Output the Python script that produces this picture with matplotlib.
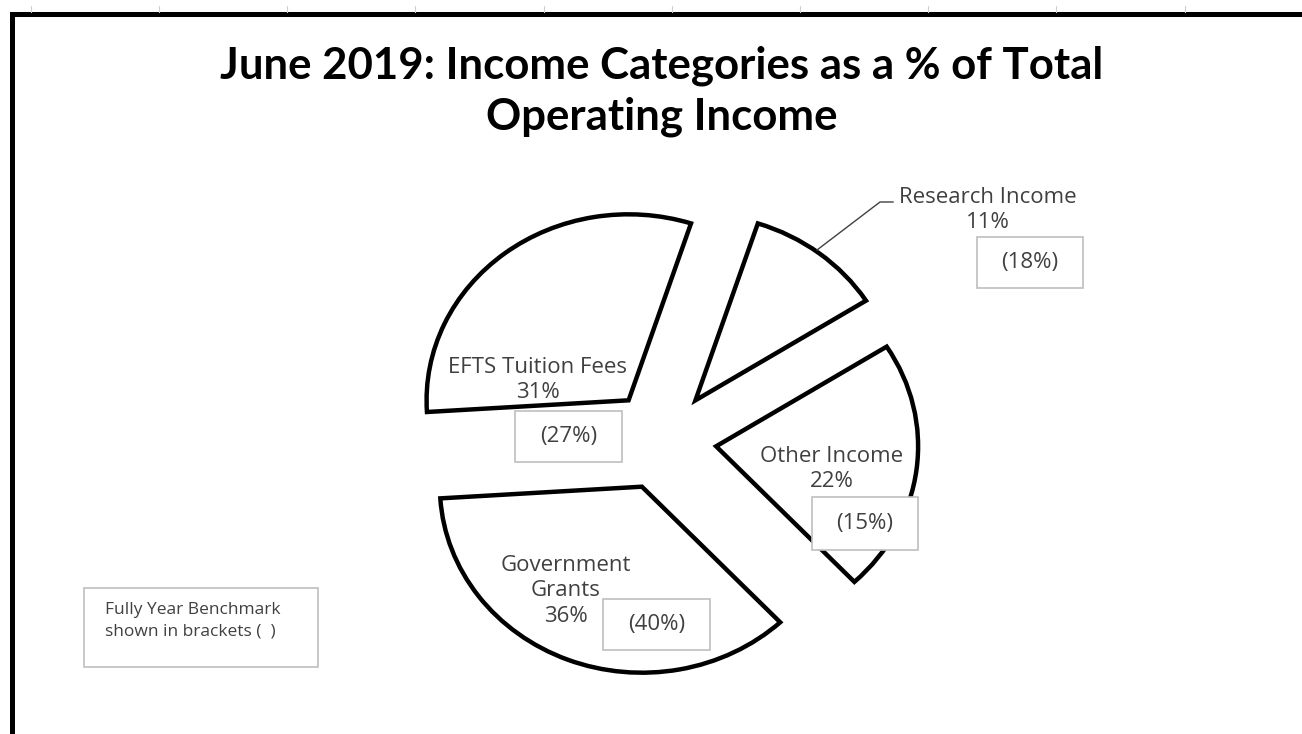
import matplotlib
matplotlib.use('Agg')
import matplotlib.pyplot as plt
from matplotlib.lines import Line2D
from matplotlib.patches import Rectangle

W, H = 1302, 734

categories = ['Research Income', 'Other Income', 'Government\nGrants', 'EFTS Tuition Fees']
shares = [11, 22, 36, 31]            # June 2019, % of total operating income
benchmark = [18, 15, 40, 27]         # full year benchmark, %

# label / box placement in pixels (x, y from top)
label_pos = [(988, 210), (832, 469), (566, 591), (538, 380)]
box_rect = [(977, 237, 106, 51), (812, 497, 106, 53), (603, 599, 107, 51), (515, 411, 107, 51)]

TXT = '#404040'


def fx(x):
    return x / W


def fy(y):
    return 1 - y / H


fig = plt.figure(figsize=(W / 100, H / 100), dpi=100)
fig.patch.set_facecolor('white')
ax = fig.add_axes([0, 0, 1, 1])

# pie centre (662, 440) px, radius ~202 px wide and ~186 px tall
cx, cy, rx, ry = 662, 440, 202, 186
ax.pie(shares, explode=[0.27] * 4, startangle=72, counterclock=False, radius=1,
       wedgeprops=dict(facecolor='white', edgecolor='black', linewidth=3.2))
ax.set_aspect('auto')
ax.set_xlim(-cx / rx, (W - cx) / rx)
ax.set_ylim(-(H - cy) / ry, cy / ry)
ax.axis('off')

# title
fig.text(fx(662), fy(91), 'June 2019: Income Categories as a % of Total\nOperating Income',
         ha='center', va='center', fontsize=31.5, fontweight='bold', family='Lato',
         color='black', linespacing=1.32)

# category labels and benchmark boxes
for cat, s, b, (lx, ly), (bx, by, bw, bh) in zip(categories, shares, benchmark, label_pos, box_rect):
    fig.text(fx(lx), fy(ly), f'{cat}\n{s}%', ha='center', va='center', fontsize=16,
             family='Open Sans', color=TXT, linespacing=1.3)
    fig.add_artist(Rectangle((fx(bx), fy(by + bh)), bw / W, bh / H, transform=fig.transFigure,
                             facecolor='white', edgecolor='#bfbfbf', linewidth=1.2))
    fig.text(fx(bx + bw / 2), fy(by + bh / 2), f'({b}%)', ha='center', va='center',
             fontsize=16, family='Open Sans', color=TXT)

# leader line for the research slice
fig.add_artist(Line2D([fx(817), fx(880), fx(893)], [fy(250), fy(202), fy(202)],
                      transform=fig.transFigure, color='#404040', linewidth=1))

# note box
fig.add_artist(Rectangle((fx(84), fy(667)), (318 - 84) / W, (667 - 588) / H,
                         transform=fig.transFigure, facecolor='white',
                         edgecolor='#bfbfbf', linewidth=1.2))
fig.text(fx(105), fy(621), 'Fully Year Benchmark\nshown in brackets (  )', ha='left',
         va='center', fontsize=12.5, family='Open Sans', color=TXT, linespacing=1.45)

# chart frame (left and top edges) and sheet gridline stubs
fig.add_artist(Line2D([fx(12), fx(12), fx(W)], [fy(H), fy(14), fy(14)],
                      transform=fig.transFigure, color='black', linewidth=3.6,
                      solid_joinstyle='miter'))
for gx in [31, 159, 287, 415, 544, 672, 800, 928, 1056, 1185]:
    fig.add_artist(Line2D([fx(gx), fx(gx)], [fy(6), fy(12)], transform=fig.transFigure,
                          color='#d0d0d0', linewidth=0.8))

fig.savefig('out.png', dpi=100)
